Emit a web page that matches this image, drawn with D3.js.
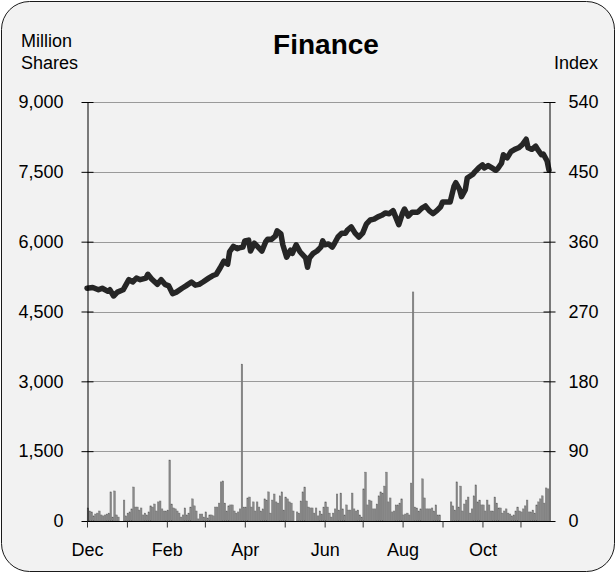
<!DOCTYPE html>
<html>
<head>
<meta charset="utf-8">
<script src="https://cdn.jsdelivr.net/npm/d3@7"></script>
<style>
  html, body { margin: 0; padding: 0; background: #ffffff; }
  svg { display: block; }
  text { font-family: "Liberation Sans", Arial, sans-serif; fill: #000; }
</style>
</head>
<body>
<svg id="chart" width="616" height="573"></svg>
<script>
// ---------------- DATA ----------------
const title = "Finance";
const leftTitle = ["Million", "Shares"];
const rightTitle = "Index";

// Daily trading volume (million shares), one entry per trading day; null = no data
const volume = [
  280,215,195,110,150,170,215,130,110,130,150,170,625,85,645,130,85,null,null,450,
  110,170,195,260,730,300,300,235,280,130,170,130,195,325,300,365,215,410,430,260,
  215,215,235,1310,365,280,260,215,170,85,130,280,130,170,300,475,325,215,45,150,150,
  85,195,65,130,130,110,300,300,385,840,860,385,215,325,345,345,215,170,195,260,
  3370,300,300,495,515,300,410,215,410,300,215,260,475,450,625,170,450,580,410,385,
  540,625,235,515,475,410,385,215,null,195,170,430,625,730,430,300,280,280,170,280,
  110,215,150,300,410,300,170,85,170,260,580,235,600,260,130,345,235,235,600,260,
  215,235,130,85,690,1050,345,450,430,260,260,365,540,625,600,750,1050,410,495,195,
  215,345,345,385,475,130,150,170,130,815,4920,300,280,215,260,905,495,260,260,
  260,280,215,345,130,130,null,null,null,null,null,
  410,325,235,840,300,750,215,365,450,515,170,260,540,775,410,450,345,345,215,450,
  345,215,215,515,385,280,280,170,215,260,170,150,110,130,215,300,215,195,260,325,
  450,195,195,235,170,345,410,475,540,385,710,690
];

// Index level, sampled at trading-day numbers
const indexDays = [
  0,3,6,8,11,12,14,16,19,22,24,26,28,31,32,34,37,39,41,43,45,47,50,52,55,57,59,61,64,66,
  68,70,72,74,75,77,79,80,82,83,85,86,88,90,92,94,95,97,99,100,102,103,105,107,108,110,112,115,116,117,
  119,121,123,124,125,127,129,130,132,134,136,137,139,141,143,145,147,149,151,153,155,157,159,161,164,166,167,169,171,174,
  176,178,180,182,184,186,187,189,191,193,194,196,197,199,200,203,204,206,208,209,211,213,215,216,218,219,221,223,225,227,
  229,231,232,234,236,237,239,240,242,243
];
const indexValues = [
  300,301,298,300,296,298,290,295,298,311,308,313,311,313,318,312,305,311,305,303,293,295,300,303,308,304,305,308,313,316,
  318,326,335,331,347,354,351,352,353,361,362,348,358,353,348,360,363,363,367,374,370,356,340,349,345,356,347,339,327,339,
  345,348,353,361,356,357,353,357,366,371,371,375,379,371,366,371,383,388,389,392,394,397,396,400,382,397,402,393,398,398,
  403,406,400,396,400,405,411,411,411,431,436,427,418,427,442,447,450,455,459,455,458,455,452,454,461,472,468,476,479,481,
  485,492,481,479,483,479,472,473,464,452
];

const leftTicks = [0, 1500, 3000, 4500, 6000, 7500, 9000];
const rightTicks = [0, 90, 180, 270, 360, 450, 540];
const monthTickDays = [0, 21, 42, 62, 83, 104, 125, 145, 166, 187, 208, 228];
const monthLabels = ["Dec", "", "Feb", "", "Apr", "", "Jun", "", "Aug", "", "Oct", ""];

// ---------------- LAYOUT ----------------
const W = 616, H = 573;
const plot = { left: 87, right: 549, top: 102, bottom: 521 };
const FS = 18;
const FONT = "Liberation Sans, Arial, sans-serif";

const svg = d3.select("#chart");

svg.append("rect")
  .attr("x", 1.5).attr("y", 1.5)
  .attr("width", W - 3).attr("height", H - 3)
  .attr("rx", 28).attr("ry", 28)
  .attr("fill", "#f2f2f2").attr("stroke", "#1a1a1a").attr("stroke-width", 1);

const x = d3.scaleLinear().domain([0, volume.length]).range([plot.left, plot.right]);
const yL = d3.scaleLinear().domain([0, 9000]).range([plot.bottom, plot.top]);
const yR = d3.scaleLinear().domain([0, 540]).range([plot.bottom, plot.top]);

// gridlines
svg.append("g").selectAll("line").data(leftTicks.filter(d => d > 0)).join("line")
  .attr("x1", plot.left).attr("x2", plot.right)
  .attr("y1", d => Math.round(yL(d)) + 0.5).attr("y2", d => Math.round(yL(d)) + 0.5)
  .attr("stroke", "#9a9a9a").attr("stroke-width", 1);

// bars
const step = x(1) - x(0);
svg.append("g").selectAll("rect")
  .data(volume.map((v, i) => ({ v, i })).filter(d => d.v != null))
  .join("rect")
  .attr("x", d => x(d.i) + 0.15)
  .attr("width", step - 0.3)
  .attr("y", d => yL(d.v))
  .attr("height", d => yL(0) - yL(d.v))
  .attr("fill", "#8a8a8a")
  .attr("stroke", "#666666").attr("stroke-width", 0.4);

// index line
const pts = indexDays.map((d, i) => [d, indexValues[i]]);
svg.append("path")
  .datum(pts)
  .attr("d", d3.line().x(d => x(d[0])).y(d => yR(d[1])))
  .attr("fill", "none")
  .attr("stroke", "#262626")
  .attr("stroke-width", 5.5)
  .attr("stroke-linejoin", "round")
  .attr("stroke-linecap", "round");

// axes
const leftAxis = d3.axisLeft(yL).tickValues(leftTicks).tickSize(0).tickPadding(0)
  .tickFormat(d3.format(","));
const gL = svg.append("g").attr("transform", `translate(${plot.left + 0.5},0)`).call(leftAxis);
gL.select(".domain").attr("stroke", "#000");
gL.selectAll(".tick line").remove();
gL.selectAll(".tick").append("line")
  .attr("x1", -6).attr("x2", 6).attr("stroke", "#000");
gL.selectAll(".tick text").attr("x", -24).attr("font-size", FS)
  .attr("font-family", FONT).attr("fill", "#000");

const rightAxis = d3.axisRight(yR).tickValues(rightTicks).tickSize(0).tickPadding(0);
const gR = svg.append("g").attr("transform", `translate(${plot.right + 0.5},0)`).call(rightAxis);
gR.select(".domain").attr("stroke", "#000");
gR.selectAll(".tick line").remove();
gR.selectAll(".tick").append("line")
  .attr("x1", -6).attr("x2", 6).attr("stroke", "#000");
gR.selectAll(".tick text").attr("x", 19).attr("font-size", FS)
  .attr("font-family", FONT).attr("fill", "#000");

const bottomAxis = d3.axisBottom(x).tickValues(monthTickDays).tickSize(6).tickPadding(16)
  .tickFormat((d, i) => monthLabels[i]);
const gB = svg.append("g").attr("transform", `translate(0,${plot.bottom + 0.5})`).call(bottomAxis);
gB.select(".domain").attr("stroke", "#000").attr("d", `M${plot.left},0H${plot.right + 1}`);
gB.selectAll(".tick line").attr("stroke", "#333");
gB.selectAll(".tick text").attr("font-size", FS)
  .attr("font-family", FONT).attr("fill", "#000");

// titles
svg.append("text").attr("x", 326).attr("y", 54).attr("text-anchor", "middle")
  .attr("font-size", 28).attr("font-weight", "bold").text(title);
svg.append("text").attr("x", 21).attr("y", 47).attr("font-size", FS).text(leftTitle[0]);
svg.append("text").attr("x", 21).attr("y", 69).attr("font-size", FS).text(leftTitle[1]);
svg.append("text").attr("x", 598).attr("y", 69).attr("text-anchor", "end")
  .attr("font-size", FS).text(rightTitle);
</script>
</body>
</html>
